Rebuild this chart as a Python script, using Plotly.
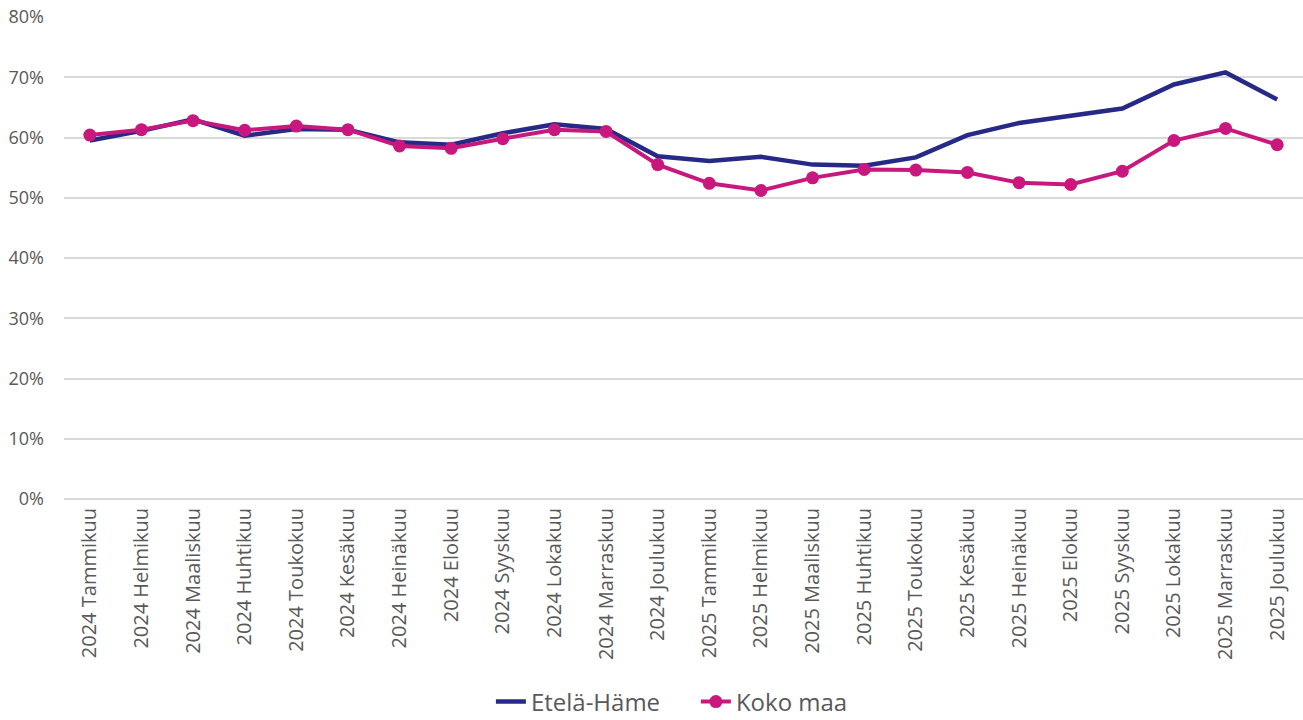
import plotly.graph_objects as go

months = ["Tammikuu", "Helmikuu", "Maaliskuu", "Huhtikuu", "Toukokuu", "Kesäkuu",
          "Heinäkuu", "Elokuu", "Syyskuu", "Lokakuu", "Marraskuu", "Joulukuu"]
categories = [f"{y} {m}" for y in (2024, 2025) for m in months]

etela_hame = [59.5, 61.1, 63.0, 60.3, 61.4, 61.3, 59.2, 58.8, 60.7, 62.2, 61.4, 56.9,
              56.1, 56.8, 55.5, 55.3, 56.7, 60.4, 62.4, 63.6, 64.8, 68.8, 70.8, 66.3]
koko_maa = [60.4, 61.3, 62.8, 61.2, 61.9, 61.3, 58.6, 58.2, 59.8, 61.3, 61.0, 55.5,
            52.4, 51.2, 53.3, 54.7, 54.6, 54.2, 52.5, 52.2, 54.4, 59.5, 61.5, 58.8]

y_ticks = [0, 10, 20, 30, 40, 50, 60, 70, 80]

fig = go.Figure()
fig.add_trace(go.Scatter(
    x=categories, y=etela_hame, name="Etelä-Häme", mode="lines",
    line=dict(color="#262a86", width=4.5),
))
fig.add_trace(go.Scatter(
    x=categories, y=koko_maa, name="Koko maa", mode="lines+markers",
    line=dict(color="#c8187e", width=4),
    marker=dict(color="#c8187e", size=13),
))

fig.update_layout(
    width=1303, height=720,
    margin=dict(l=64, r=0, t=17, b=221),
    paper_bgcolor="white", plot_bgcolor="white",
    font=dict(family="Open Sans", color="#595959", size=20),
    showlegend=True,
    legend=dict(orientation="h", x=0.51, xanchor="center", yref="container", y=0.025,
                yanchor="middle", font=dict(size=24, color="#595959"),
                entrywidth=160, entrywidthmode="pixels"),
)
fig.update_xaxes(
    type="category", tickangle=-90, showgrid=False, showline=False,
    tickfont=dict(size=20), ticks="", range=[-0.5, 23.5], ticklabelstandoff=4,
)
fig.update_yaxes(
    range=[0, 80], tickvals=y_ticks, ticktext=[f"{v}%" for v in y_ticks],
    showgrid=True, gridcolor="#d9d9d9", gridwidth=1.5, zeroline=True,
    zerolinecolor="#d9d9d9", zerolinewidth=1.5, ticks="", ticklabelstandoff=19,
    tickfont=dict(size=18),
)

# browser default body margin would shift the chart by 8px
fig.write_html("out.html", config={"displayModeBar": False},
               post_script="document.body.style.margin='0';")
